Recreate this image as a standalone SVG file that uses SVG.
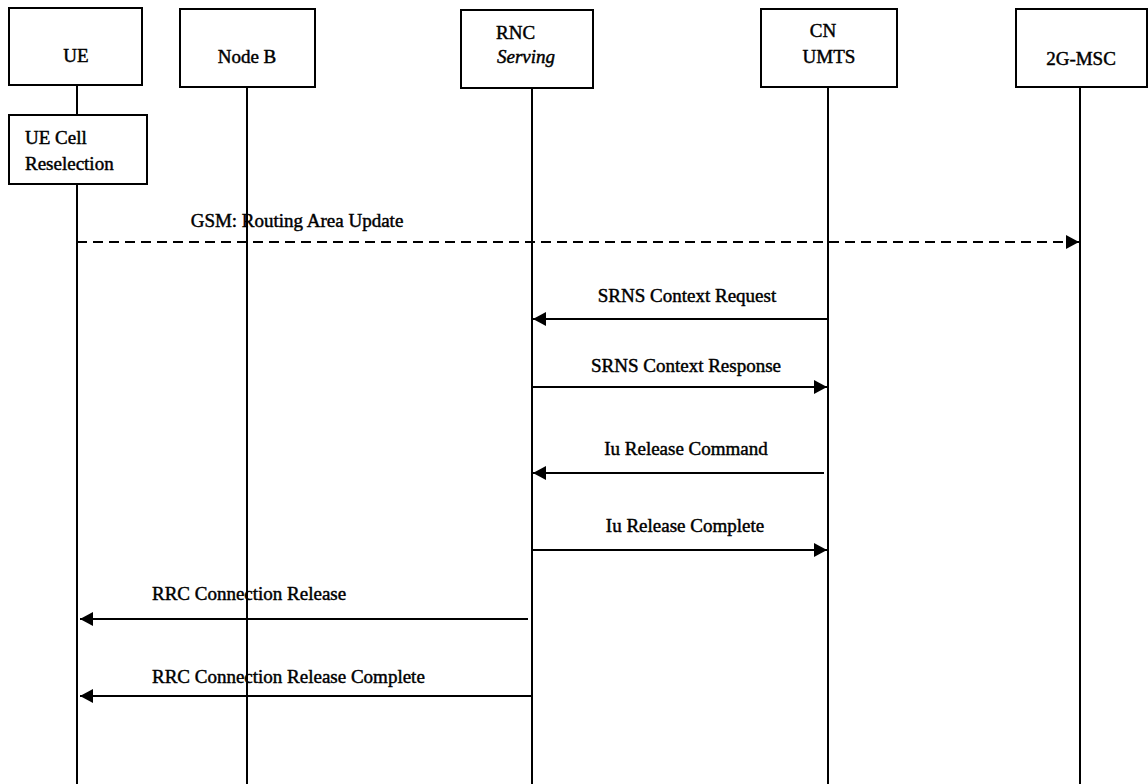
<svg xmlns="http://www.w3.org/2000/svg" width="1148" height="784" viewBox="0 0 1148 784">
  <defs>
    <style>
      .box { fill: #fff; stroke: #000; stroke-width: 2; }
      .life { stroke: #000; stroke-width: 2; fill: none; }
      .msg { stroke: #000; stroke-width: 2; fill: none; marker-end: url(#arrow); }
      .dash { stroke-dasharray: 10 6; }
      text { font-family: "Liberation Serif", "Times New Roman", serif; font-size: 19px; fill: #000; stroke: #000; stroke-width: 0.45; }
      .c { text-anchor: middle; }
      .it { font-style: italic; }
    </style>
    <marker id="arrow" markerUnits="userSpaceOnUse" markerWidth="14" markerHeight="14" refX="13" refY="7" orient="auto">
      <path d="M0,0 L13,7 L0,14 z" fill="#000"/>
    </marker>
  </defs>
  <rect width="1148" height="784" fill="#fff"/>

  <!-- lifelines -->
  <g id="lifelines">
    <line class="life" x1="77" y1="85" x2="77" y2="784"/>
    <line class="life" x1="247" y1="87" x2="247" y2="784"/>
    <line class="life" x1="532" y1="88" x2="532" y2="784"/>
    <line class="life" x1="828" y1="87" x2="828" y2="784"/>
    <line class="life" x1="1080" y1="87" x2="1080" y2="784"/>
  </g>

  <!-- participants -->
  <g id="ue">
    <rect class="box" x="9" y="8" width="133" height="77"/>
    <text class="c" x="76" y="62">UE</text>
  </g>
  <g id="nodeb">
    <rect class="box" x="180" y="9" width="135" height="78"/>
    <text class="c" x="247" y="63">Node B</text>
  </g>
  <g id="rnc">
    <rect class="box" x="461" y="10" width="132" height="78"/>
    <text x="496" y="39">RNC</text>
    <text class="it" x="497" y="63">Serving</text>
  </g>
  <g id="cn">
    <rect class="box" x="761" y="9" width="136" height="78"/>
    <text class="c" x="823" y="37">CN</text>
    <text class="c" x="829" y="63">UMTS</text>
  </g>
  <g id="msc">
    <rect class="box" x="1016" y="9" width="131" height="78"/>
    <text class="c" x="1081" y="65">2G-MSC</text>
  </g>

  <!-- local action on the UE -->
  <g id="reselection">
    <rect class="box" x="9" y="115" width="138" height="69"/>
    <text x="25" y="144">UE Cell</text>
    <text x="25" y="170">Reselection</text>
  </g>

  <!-- messages -->
  <g id="connectors">
    <line class="msg dash" x1="77" y1="242" x2="1079" y2="242"/>
    <text class="c" x="297" y="227">GSM: Routing Area Update</text>

    <line class="msg" x1="828" y1="319" x2="533" y2="319"/>
    <text class="c" x="687" y="302">SRNS Context Request</text>

    <line class="msg" x1="532" y1="387" x2="827" y2="387"/>
    <text class="c" x="686" y="372">SRNS Context Response</text>

    <line class="msg" x1="824" y1="473" x2="533" y2="473"/>
    <text class="c" x="686" y="455">Iu Release Command</text>

    <line class="msg" x1="532" y1="550" x2="827" y2="550"/>
    <text class="c" x="685" y="532">Iu Release Complete</text>

    <line class="msg" x1="528" y1="619" x2="80" y2="619"/>
    <text x="152" y="600">RRC Connection Release</text>

    <line class="msg" x1="532" y1="696" x2="80" y2="696"/>
    <text x="152" y="683">RRC Connection Release Complete</text>
  </g>
</svg>
